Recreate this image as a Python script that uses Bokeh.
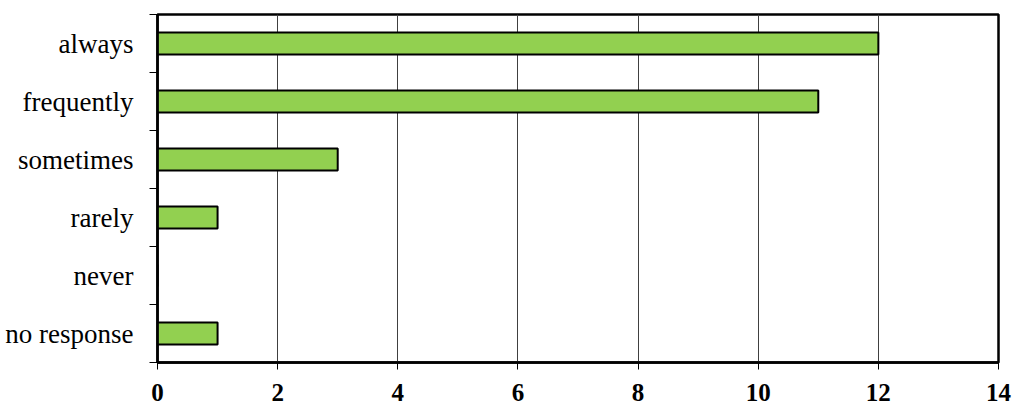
from bokeh.plotting import figure
from bokeh.models import Range1d, FixedTicker
from bokeh.embed import file_html
from bokeh.resources import INLINE

categories = ["always", "frequently", "sometimes", "rarely", "never", "no response"]
values = [12, 11, 3, 1, 0, 1]
x_ticks = [0, 2, 4, 6, 8, 10, 12, 14]

n = len(categories)
# bottom-to-top positions (first category at top)
ypos = [n - 1 - i + 0.5 for i in range(n)]

p = figure(width=1016, height=406, output_backend="svg", toolbar_location=None,
           x_range=Range1d(0, 14), y_range=Range1d(0, n),
           min_border_left=157, min_border_right=18, min_border_top=14, min_border_bottom=44)

p.hbar(y=ypos, right=values, left=0, height=0.38, fill_color="#92d050",
       line_color="black", line_width=2)

p.outline_line_color = "black"
p.outline_line_width = 2.5
p.background_fill_color = "white"
p.border_fill_color = "white"

p.xgrid.ticker = FixedTicker(ticks=x_ticks)
p.xgrid.grid_line_color = "#404040"
p.xgrid.grid_line_width = 1
p.ygrid.grid_line_color = None

xa = p.xaxis[0]
xa.ticker = FixedTicker(ticks=x_ticks)
xa.axis_line_color = "black"
xa.axis_line_width = 2.5
xa.major_tick_out = 7
xa.major_tick_in = 0
xa.major_tick_line_color = "black"
xa.minor_tick_line_color = None
xa.major_label_text_font = "Liberation Serif"
xa.major_label_text_font_style = "bold"
xa.major_label_text_font_size = "25px"
xa.major_label_text_color = "black"
xa.major_label_standoff = 14

ya = p.yaxis[0]
ya.ticker = FixedTicker(ticks=ypos, minor_ticks=list(range(n + 1)))
ya.major_label_overrides = {y: c for y, c in zip(ypos, categories)}
ya.axis_line_color = "black"
ya.axis_line_width = 2.5
ya.major_tick_line_color = None
ya.major_tick_out = 0
ya.major_tick_in = 0
ya.minor_tick_line_color = "black"
ya.minor_tick_line_width = 1
ya.minor_tick_out = 8
ya.minor_tick_in = 0
ya.major_label_text_font = "Liberation Serif"
ya.major_label_text_font_size = "27px"
ya.major_label_text_color = "black"
ya.major_label_standoff = 16

open("out.html", "w").write(file_html(p, INLINE))
